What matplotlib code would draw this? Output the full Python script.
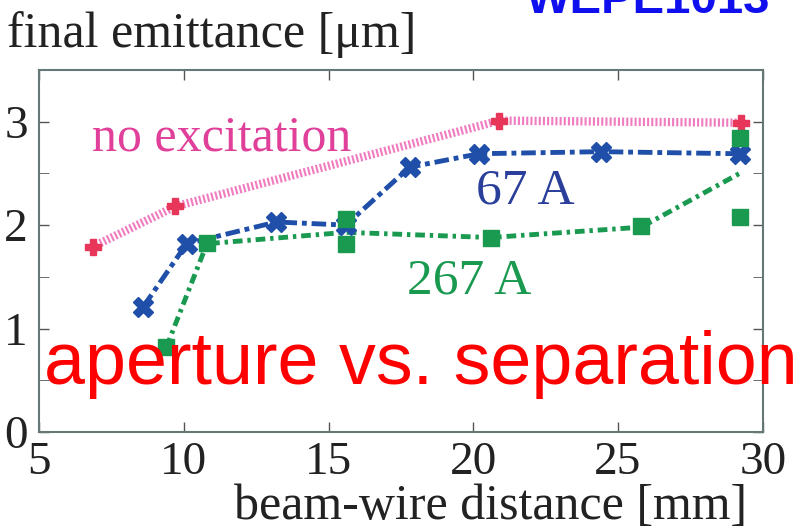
import matplotlib
matplotlib.use('Agg')
import matplotlib.pyplot as plt
import numpy as np

# no excitation
x_none = [6.85, 9.7, 20.9, 29.25]
y_none = [1.79, 2.18, 3.01, 2.99]

# 67 A
x_67 = [8.6, 10.1, 13.2, 15.6, 17.8, 20.2, 24.4, 29.2]
y_67 = [1.21, 1.82, 2.03, 2.0, 2.56, 2.69, 2.71, 2.69]

# 267 A (line and markers differ at the double points)
x_267_line = [9.4, 10.8, 15.6, 20.6, 25.8, 29.2]
y_267_line = [0.82, 1.82, 1.93, 1.88, 1.98, 2.5]
x_267_pts = [9.4, 10.8, 15.6, 15.6, 20.6, 25.8, 29.2, 29.2]
y_267_pts = [0.82, 1.83, 2.06, 1.82, 1.88, 1.99, 2.84, 2.08]

xticks = [5, 10, 15, 20, 25, 30]
yticks = [0, 1, 2, 3]

serif = ['Liberation Serif', 'DejaVu Serif']

fig = plt.figure(figsize=(8.06, 5.30), dpi=100)
ax = fig.add_axes([0.0484, 0.185, 0.898, 0.683])

ax.plot(x_none, y_none, color='#f07cc0', lw=6, linestyle=(0, (0.25, 0.25)), zorder=2)
ax.plot(x_none, y_none, ls='none', marker='P', ms=12, color='#e8365a', mec='#e8365a', zorder=4)

ax.plot(x_67, y_67, color='#1f4fa8', lw=3.5, linestyle=(0, (3, 1, 1, 1)), zorder=3)
ax.plot(x_67, y_67, ls='none', marker='X', ms=14, color='#1f4fa8', zorder=4)

ax.plot(x_267_line, y_267_line, color='#1a9a50', lw=3.5, linestyle=(0, (2, 1, 0.7, 1)), zorder=3)
ax.plot(x_267_pts, y_267_pts, ls='none', marker='s', ms=11, color='#1a9a50', zorder=4)

ax.set_xlim(5, 30)
ax.set_ylim(0, 3.5)
ax.set_xticks(xticks)
ax.set_yticks(yticks)
ax.set_yticks(np.arange(0.5, 3.5, 1.0), minor=True)
ax.tick_params(direction='in', top=True, right=True, length=7, width=1, colors='#555555',
               labelcolor='#222222', labelsize=34)
ax.tick_params(axis='x', pad=7)
ax.tick_params(axis='y', pad=8)
ax.tick_params(which='minor', direction='in', right=True, left=True, length=7, colors='#555555')
for lab in ax.get_xticklabels() + ax.get_yticklabels():
    lab.set_family(serif)
for sp in ax.spines.values():
    sp.set_color('#667777')
    sp.set_linewidth(1.5)

ax.text(6.83, 2.72, 'no excitation', color='#e0409a', fontsize=36, family=serif)
ax.text(20.1, 2.21, '67 A', color='#2a3f9a', fontsize=37, family=serif)
ax.text(17.7, 1.34, '267 A', color='#1a9a50', fontsize=37, family=serif)

fig.text(0.009, 0.912, 'final emittance [\u03bcm]', fontsize=36, family=serif, color='#222222',
         va='baseline')
fig.text(0.927, 0.02, 'beam-wire distance [mm]', fontsize=36, family=serif, color='#222222',
         ha='right', va='baseline')

fig.text(0.055, 0.275, 'aperture vs. separation', fontsize=53, color='#ff0000',
         family=['Liberation Sans', 'DejaVu Sans'], va='baseline')
fig.text(0.652, 0.975, 'WEPE1013', fontsize=34, color='#1010ee', fontweight='bold',
         family=['Liberation Sans', 'DejaVu Sans'], va='baseline')

fig.savefig('out.png', dpi=100)
